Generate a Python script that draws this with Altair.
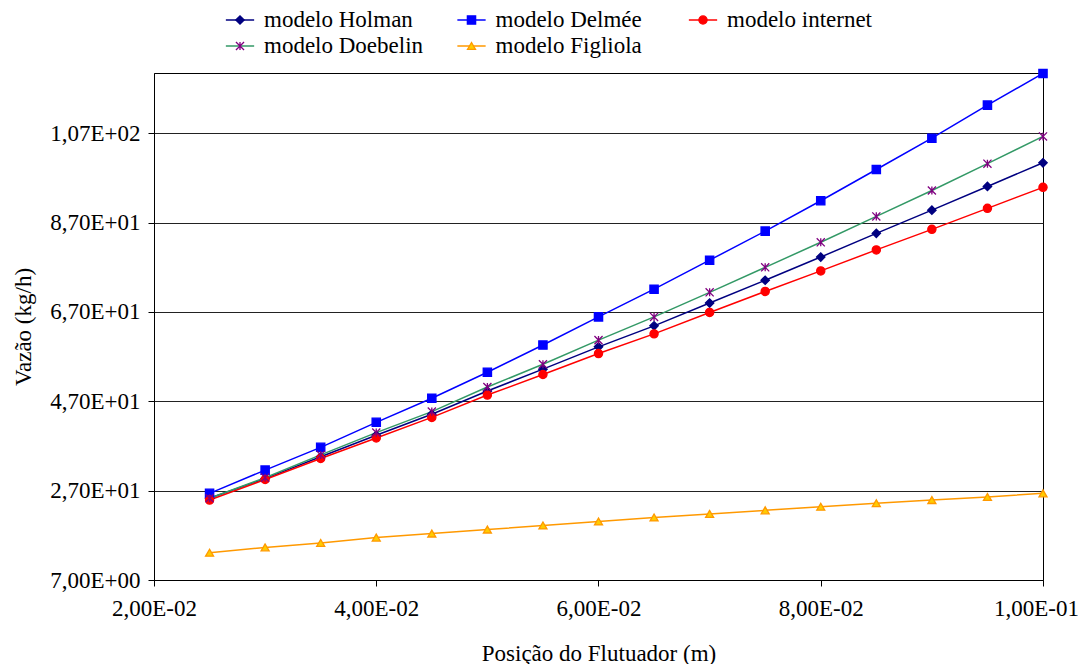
import json
import altair as alt
import pandas as pd

# ---- data ----
x_pos = [0.025, 0.030, 0.035, 0.040, 0.045, 0.050, 0.055, 0.060,
         0.065, 0.070, 0.075, 0.080, 0.085, 0.090, 0.095, 0.100]

series_names = ["modelo Holman", "modelo Delmée", "modelo internet",
                "modelo Doebelin", "modelo Figliola"]

holman = [25.3, 29.7, 34.6, 39.4, 44.1, 49.3, 54.2, 59.2,
          63.9, 69.0, 74.1, 79.3, 84.6, 89.8, 95.1, 100.4]
delmee = [26.4, 31.6, 36.7, 42.3, 47.7, 53.5, 59.6, 65.9,
          72.1, 78.6, 85.1, 91.9, 98.9, 105.9, 113.3, 120.4]
internet = [24.9, 29.5, 34.2, 38.8, 43.4, 48.4, 53.0, 57.7,
            62.1, 66.9, 71.6, 76.2, 80.9, 85.5, 90.2, 94.9]
doebelin = [25.3, 29.9, 35.0, 40.0, 44.7, 50.2, 55.3, 60.7,
            65.9, 71.4, 77.0, 82.6, 88.4, 94.2, 100.2, 106.3]
figliola = [13.1, 14.3, 15.3, 16.5, 17.4, 18.3, 19.2, 20.1,
            21.0, 21.8, 22.6, 23.4, 24.2, 24.9, 25.6, 26.4]

series_values = [holman, delmee, internet, doebelin, figliola]

y_ticks = [7, 27, 47, 67, 87, 107]
y_tick_labels = ["7,00E+00", "2,70E+01", "4,70E+01", "6,70E+01", "8,70E+01", "1,07E+02"]
x_ticks = [0.02, 0.04, 0.06, 0.08, 0.1]
x_tick_labels = ["2,00E-02", "4,00E-02", "6,00E-02", "8,00E-02", "1,00E-01"]

y_domain = [7, 120.5]
x_domain = [0.02, 0.1]

# ---- styles ----
line_colors = ["#000080", "#0000FF", "#FF0000", "#339966", "#FF9900"]
marker_fill = ["#000080", "#0000FF", "#FF0000", "#800080", "#FFCC00"]
marker_stroke = ["#000080", "#0000FF", "#FF0000", "#800080", "#FF9900"]
asterisk = "M-1,-1L1,1M-1,1L1,-1M0,-1L0,1"
marker_shapes = ["diamond", "square", "circle", asterisk, "triangle-up"]
marker_sizes = [70, 64, 90, 80, 80]

FONT = "Liberation Serif, Times New Roman, serif"
FS = 23

rows = []
for name, vals in zip(series_names, series_values):
    for xv, yv in zip(x_pos, vals):
        rows.append({"x": xv, "y": yv, "series": name})
df = pd.DataFrame(rows)
legend_df = pd.DataFrame({"series": series_names})

x_map = {str(k): v for k, v in zip(x_ticks, x_tick_labels)}
y_map = {str(k): v for k, v in zip(y_ticks, y_tick_labels)}

color_scale = alt.Scale(domain=series_names, range=line_colors)
shape_enc = alt.Shape("series:N", scale=alt.Scale(domain=series_names, range=marker_shapes), legend=None)
fill_enc = alt.Fill("series:N", scale=alt.Scale(domain=series_names, range=marker_fill), legend=None)
stroke_enc = alt.Stroke("series:N", scale=alt.Scale(domain=series_names, range=marker_stroke), legend=None)
size_enc = alt.Size("series:N", scale=alt.Scale(domain=series_names, range=marker_sizes), legend=None)

x_enc = alt.X("x:Q", scale=alt.Scale(domain=x_domain, nice=False, zero=False),
              axis=alt.Axis(values=x_ticks, title="Posição do Flutuador (m)",
                            labelExpr=json.dumps(x_map) + "[toString(datum.value)]",
                            grid=False, tickSize=6, labelPadding=11, titlePadding=22,
                            labelFlush=False,
                            labelOffset={"condition": {"test": "datum.value >= 0.099", "value": -7},
                                         "value": 0}))
y_enc = alt.Y("y:Q", scale=alt.Scale(domain=y_domain, nice=False, zero=False),
              axis=alt.Axis(values=y_ticks, title="Vazão (kg/h)",
                            labelExpr=json.dumps(y_map) + "[toString(datum.value)]",
                            grid=True, tickSize=6, labelPadding=8, titlePadding=14))

lines = alt.Chart(df).mark_line(strokeWidth=1.5).encode(
    x=x_enc, y=y_enc,
    color=alt.Color("series:N", scale=color_scale, legend=None),
)

points = alt.Chart(df).mark_point(filled=True, strokeWidth=1.3, opacity=1).encode(
    x="x:Q", y="y:Q",
    shape=shape_enc, fill=fill_enc, stroke=stroke_enc, size=size_enc,
)

main = alt.layer(lines, points)

# ---- legend, drawn as marks on its own position scales (3 columns x 2 rows) ----
leg_x = alt.X("col:Q", scale=alt.Scale(domain=[0, 2], range=[86, 549], nice=False, zero=False),
              axis=None)
leg_y = alt.Y("row:Q", scale=alt.Scale(domain=[0, 1], range=[-53, -27], nice=False, zero=False),
              axis=None)

leg_base = alt.Chart(legend_df).transform_window(
    idx="row_number()"
).transform_calculate(
    col="(datum.idx - 1) % 3", row="floor((datum.idx - 1) / 3)"
)

leg_lines = leg_base.mark_point(shape="M-1,0H1", size=800, filled=False,
                                strokeWidth=1.5, opacity=1).encode(
    x=leg_x, y=leg_y,
    color=alt.Color("series:N", scale=color_scale, legend=None),
)
leg_marks = leg_base.mark_point(filled=True, strokeWidth=1.3, opacity=1).encode(
    x=leg_x, y=leg_y,
    shape=shape_enc, fill=fill_enc, stroke=stroke_enc, size=size_enc,
)
leg_text = leg_base.mark_text(align="left", baseline="middle", dx=24, font=FONT,
                              fontSize=FS, color="black").encode(
    x=leg_x, y=leg_y, text="series:N",
)

legend = alt.layer(leg_lines, leg_marks, leg_text)

chart = alt.layer(main, legend).resolve_scale(
    x="independent", y="independent"
).properties(
    width=889, height=507,
    autosize=alt.AutoSizeParams(type="none"),
    padding={"left": 146, "top": 65, "right": 35, "bottom": 84},
).configure_view(
    stroke="black", strokeWidth=1,
).configure_axis(
    labelFont=FONT, titleFont=FONT, labelFontSize=FS, titleFontSize=FS,
    titleFontWeight="normal", labelColor="black", titleColor="black",
    domainColor="black", tickColor="black", gridColor="#222222", gridWidth=1,
    domainWidth=1,
)

chart.save("out.html", embed_options={"renderer": "svg", "actions": False})
